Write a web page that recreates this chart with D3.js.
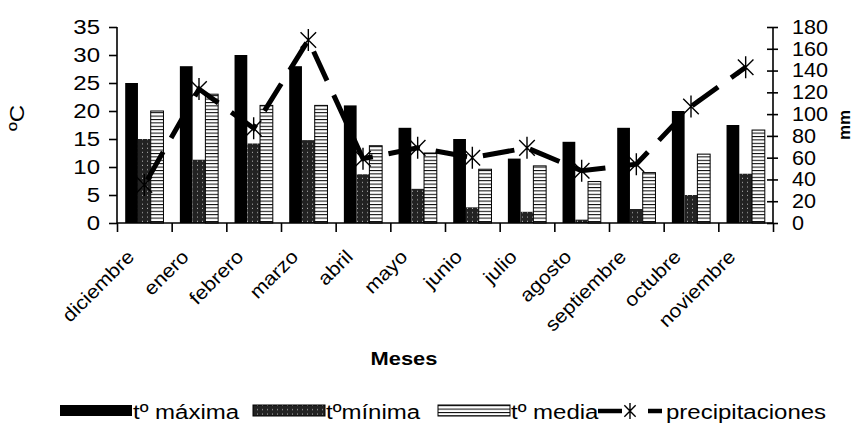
<!DOCTYPE html>
<html>
<head>
<meta charset="utf-8">
<script src="https://cdn.jsdelivr.net/npm/d3@7"></script>
<style>
  body { margin: 0; background: #fff; }
  svg { display: block; font-family: Arial, "Liberation Sans", sans-serif; }
</style>
</head>
<body>
<svg id="chart" width="857" height="428"></svg>
<script>
// Data
const months = ['diciembre', 'enero', 'febrero', 'marzo', 'abril', 'mayo', 'junio', 'julio', 'agosto', 'septiembre', 'octubre', 'noviembre'];
const tMax = [25, 28, 30, 28, 21, 17, 15, 11.5, 14.5, 17, 20, 17.5];
const tMin = [15, 11.3, 14.2, 14.8, 8.7, 6.1, 2.8, 2, 0.6, 2.5, 5, 8.8];
const tMedia = [20, 23, 21, 21, 13.8, 12.5, 9.6, 10.2, 7.4, 9, 12.3, 16.6];
const precip = [35, 123, 87, 168, 59, 69, 60, 69, 48, 54, 107, 143];
const leftTicks = [0, 5, 10, 15, 20, 25, 30, 35];
const rightTicks = [0, 20, 40, 60, 80, 100, 120, 140, 160, 180];
const seriesNames = ['t\u00ba m\u00e1xima', 't\u00bam\u00ednima', 't\u00ba media', 'precipitaciones'];

const svg = d3.select('#chart');
const plot = { left: 117, right: 773, top: 27, bottom: 223 };

// stretch text a bit wider, like the original
function widen(sel, k) {
    sel.each(function () {
        const len = this.getComputedTextLength();
        d3.select(this).attr('textLength', len * k).attr('lengthAdjust', 'spacingAndGlyphs');
    });
}

// Patterns
const defs = svg.append('defs');
const dots = defs.append('pattern').attr('id', 'dots')
    .attr('patternUnits', 'userSpaceOnUse').attr('width', 5).attr('height', 4.3);
dots.append('rect').attr('width', 5).attr('height', 4.3).attr('fill', '#222');
dots.append('rect').attr('x', 2).attr('y', 1.5).attr('width', 1).attr('height', 1).attr('fill', '#bbb');

const stripes = defs.append('pattern').attr('id', 'stripes')
    .attr('patternUnits', 'userSpaceOnUse').attr('width', 6).attr('height', 3.4);
stripes.append('rect').attr('width', 6).attr('height', 3.4).attr('fill', '#fff');
stripes.append('rect').attr('width', 6).attr('height', 1).attr('fill', '#000');

// Scales
const x = d3.scaleBand().domain(months).range([plot.left, plot.right]).paddingInner(0.3).paddingOuter(0.15);
const xTick = d3.scaleLinear().domain([0, 12]).range([plot.left, plot.right]);
const xSub = d3.scaleBand().domain([0, 1, 2]).range([0, x.bandwidth()]);
const yL = d3.scaleLinear().domain([0, 35]).range([plot.bottom, plot.top]);
const yR = d3.scaleLinear().domain([0, 180]).range([plot.bottom, plot.top]);

// Bars
const series = [
    { values: tMax, fill: '#000', stroke: 'none' },
    { values: tMin, fill: 'url(#dots)', stroke: 'none' },
    { values: tMedia, fill: 'url(#stripes)', stroke: '#000' }
];
series.forEach((s, i) => {
    svg.append('g').selectAll('rect')
        .data(s.values)
        .join('rect')
        .attr('x', (d, j) => x(months[j]) + xSub(i))
        .attr('y', d => yL(d))
        .attr('width', xSub.bandwidth())
        .attr('height', d => yL(0) - yL(d))
        .attr('fill', s.fill)
        .attr('stroke', s.stroke)
        .attr('stroke-width', 1);
});

// Precipitation line
const line = d3.line()
    .x((d, i) => x(months[i]) + x.bandwidth() / 2)
    .y(d => yR(d));
svg.append('path')
    .datum(precip)
    .attr('fill', 'none')
    .attr('stroke', '#000')
    .attr('stroke-width', 5)
    .attr('stroke-dasharray', '32,16')
    .attr('stroke-dashoffset', -6)
    .attr('d', line);

function star(g, r) {
    const a = r * Math.SQRT1_2;
    g.append('path')
        .attr('d', `M0,${-r}V${r}M${-a},${-a}L${a},${a}M${-a},${a}L${a},${-a}`)
        .attr('stroke', '#000')
        .attr('stroke-width', 1.4)
        .attr('fill', 'none');
}
precip.forEach((d, i) => {
    const g = svg.append('g')
        .attr('transform', `translate(${x(months[i]) + x.bandwidth() / 2},${yR(d)})`);
    star(g, 11);
});

// Axes
const axL = svg.append('g')
    .attr('transform', `translate(${plot.left},0)`)
    .call(d3.axisLeft(yL).tickValues(leftTicks).tickSize(8).tickPadding(9));
const axR = svg.append('g')
    .attr('transform', `translate(${plot.right},0)`)
    .call(d3.axisRight(yR).tickValues(rightTicks).tickSize(5).tickPadding(14));
axR.selectAll('.tick line').attr('x1', -6);
const axB = svg.append('g')
    .attr('transform', `translate(0,${plot.bottom})`)
    .call(d3.axisBottom(xTick).ticks(12).tickSize(9).tickFormat(''));

[axL, axR, axB].forEach(ax => {
    ax.select('.domain').attr('stroke', '#000').attr('stroke-width', 1.6);
    ax.selectAll('.tick line').attr('stroke', '#000').attr('stroke-width', 1.6);
    ax.selectAll('text').attr('font-size', 20).attr('fill', '#000')
        .attr('font-family', 'Arial, "Liberation Sans", sans-serif');
});
axL.select('.domain').attr('d', `M0,${plot.bottom}V${plot.top}`);
axR.select('.domain').attr('d', `M0,${plot.bottom}V${plot.top}`);
axB.select('.domain').attr('d', `M${plot.left},0H${plot.right}`);
widen(axL.selectAll('text'), 1.2);
widen(axR.selectAll('text'), 1.08);

// Month labels
svg.append('g').selectAll('text')
    .data(months)
    .join('text')
    .attr('transform', d => `translate(${x(d) + x.bandwidth() / 2 - 9},258) rotate(-45)`)
    .attr('text-anchor', 'end')
    .attr('font-size', 19)
    .text(d => d)
    .call(widen, 1.12);

// Axis titles
svg.append('text')
    .attr('x', 404).attr('y', 365)
    .attr('text-anchor', 'middle')
    .attr('font-size', 19).attr('font-weight', 'bold')
    .text('Meses').call(widen, 1.15);
svg.append('text')
    .attr('transform', 'translate(24,118) rotate(-90)')
    .attr('text-anchor', 'middle')
    .attr('font-size', 20)
    .text('\u00baC').call(widen, 1.2);
svg.append('text')
    .attr('transform', 'translate(850,125) rotate(-90)')
    .attr('text-anchor', 'middle')
    .attr('font-size', 17).attr('font-weight', 'bold')
    .text('mm');

// Legend
const leg = svg.append('g').attr('transform', 'translate(0,412)');
const legFills = ['#000', 'url(#dots)', 'url(#stripes)'];
const legX = [60, 253, 438];
legFills.forEach((f, i) => {
    leg.append('rect')
        .attr('x', legX[i]).attr('y', -7).attr('width', 72).attr('height', 11)
        .attr('fill', f).attr('stroke', i === 0 ? 'none' : '#000').attr('stroke-width', 1);
    leg.append('text')
        .attr('x', legX[i] + 73).attr('y', 7)
        .attr('font-size', 20)
        .text(seriesNames[i]).call(widen, 1.2);
});
leg.append('line').attr('x1', 598).attr('x2', 622).attr('y1', -1).attr('y2', -1)
    .attr('stroke', '#000').attr('stroke-width', 4.5);
leg.append('line').attr('x1', 648).attr('x2', 662).attr('y1', -1).attr('y2', -1)
    .attr('stroke', '#000').attr('stroke-width', 4.5);
star(leg.append('g').attr('transform', 'translate(630,-1)'), 8);
leg.append('text')
    .attr('x', 666).attr('y', 7)
    .attr('font-size', 20)
    .text(seriesNames[3]).call(widen, 1.2);
</script>
</body>
</html>
